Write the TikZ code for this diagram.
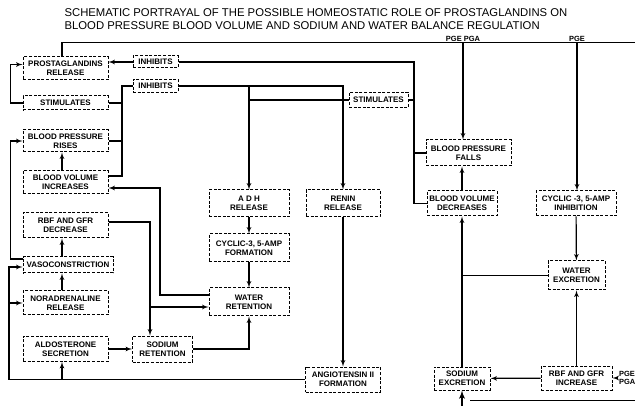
\documentclass[tikz,border=0pt]{standalone}
\usepackage{fontspec}
\setmainfont{Liberation Sans}
\usepackage{tikz}
\usetikzlibrary{arrows}
\tikzset{link/.style = {->,> = latex'}}

\begin{document}
\begin{tikzpicture}[x=1pt,y=-1pt,line width=1.2pt,
    box/.style={draw,dash pattern=on 3pt off 1.6pt,line width=1pt,align=center,inner sep=1pt,font=\fontsize{8}{8.6}\selectfont\bfseries},
    wh/.style 2 args={minimum width=#1pt,minimum height=#2pt},
    lbl/.style={inner sep=0.5pt,font=\fontsize{7.5}{8}\selectfont\bfseries}]
\useasboundingbox (0,0) rectangle (635,406);
\node[anchor=north west,align=left,inner sep=0pt,font=\fontsize{11.3}{12.3}\selectfont] (title) at (64,8.3) {SCHEMATIC PORTRAYAL OF THE POSSIBLE HOMEOSTATIC ROLE OF PROSTAGLANDINS ON\\BLOOD PRESSURE BLOOD VOLUME AND SODIUM AND WATER BALANCE REGULATION};

% left column
\node[box, wh={85}{23}] (prost) at (65.5,68.5) {PROSTAGLANDINS\\RELEASE};
\node[box, wh={85}{14}] (stim1) at (65.5,103) {STIMULATES};
\node[box, wh={85}{22}] (bprise) at (65.5,141) {BLOOD PRESSURE\\RISES};
\node[box, wh={85}{23}] (bvinc) at (65.5,182.5) {BLOOD VOLUME\\INCREASES};
\node[box, wh={85}{25}] (rbfd) at (65.5,225.5) {RBF AND GFR\\DECREASE};
\node[box, wh={90}{16}] (vaso) at (68,265) {VASOCONSTRICTION};
\node[box, wh={85}{24}] (nora) at (65.5,303) {NORADRENALINE\\RELEASE};
\node[box, wh={85}{25}] (alds) at (65.5,349) {ALDOSTERONE\\SECRETION};
\node[box, wh={45}{12}] (inh1) at (155.5,62) {INHIBITS};
\node[box, wh={45}{13}] (inh2) at (155.5,86) {INHIBITS};
\node[box, wh={60}{26}] (sodret) at (162.5,349) {SODIUM\\RETENTION};

% middle
\node[box, wh={80}{27}] (adh) at (249,203.5) {A D H\\RELEASE};
\node[box, wh={80}{28}] (cycf) at (249,248) {CYCLIC-3, 5-AMP\\FORMATION};
\node[box, wh={80}{28}] (watret) at (249,302) {WATER\\RETENTION};
\node[box, wh={74}{27}] (renin) at (343,203.5) {RENIN\\RELEASE};
\node[box, wh={75}{25}] (angio) at (343,379.5) {ANGIOTENSIN II\\FORMATION};
\node[box, wh={59}{15}] (stim2) at (378.5,100) {STIMULATES};

% right
\node[box, wh={85}{26}] (bpf) at (468.5,153) {BLOOD PRESSURE\\FALLS};
\node[box, wh={70}{25}] (bvd) at (462,203.5) {BLOOD VOLUME\\DECREASES};
\node[box, wh={80}{25}] (cycinh) at (576,203.5) {CYCLIC -3, 5-AMP\\INHIBITION};
\node[box, wh={57}{29}] (watexc) at (576.5,275.5) {WATER\\EXCRETION};
\node[box, wh={56}{23}] (sodexc) at (462,378.5) {SODIUM\\EXCRETION};
\node[box, wh={71}{24}] (rbfinc) at (576.5,378) {RBF AND GFR\\INCREASE};

\node[lbl, anchor=south] (pgepga) at (463,42.5) {PGE PGA};
\node[lbl, anchor=south] (pge) at (577,42.5) {PGE};
\node[lbl, anchor=west, align=left] (pgepga2) at (618,378) {PGE\\PGA};

\coordinate (colx) at (62,0);
\coordinate (topend) at (635,42.5);
\coordinate (rbus) at (414,62);
\coordinate (lbus) at (122,86);
\coordinate (wbend) at (160,188);
\coordinate (rbfx) at (150,307);
\coordinate (abus) at (9,380);
\coordinate (botin) at (462,406);
\coordinate (cutl) at (470,400);
\coordinate (cutr) at (635,400);

% top feed
\draw (prost.north -| colx) |- (topend);
\draw[link] (pgepga.south) -- (pgepga.south |- bpf.north);
\draw[link] (pge.south) -- (pge.south |- cycinh.north);
\draw[link] (inh1.west) -- (inh1.west -| prost.east);
\draw[link] (stim1.west) -- ++(-12,0) |- ([yshift=4pt]prost.west);

% left bus
\draw (inh2.west) -- (lbus) |- ([yshift=6.5pt]bvinc.east);
\draw (stim1.east) -- (stim1.east -| lbus);
\draw (bprise.east) -- (bprise.east -| lbus);
\draw[link] (bvinc.north -| colx) -- (bprise.south -| colx);
\draw[link] (vaso.north -| colx) -- (rbfd.south -| colx);
\draw[link] (nora.north -| colx) -- (vaso.south -| colx);
\draw[link] ([yshift=6pt]vaso.west) -- ++(-12,0) |- (bprise.west);
\draw[link] (angio.west) -| ([yshift=-2pt]vaso.west -| abus) -- ([yshift=-2pt]vaso.west);
\draw[link] (nora.west -| abus) -- (nora.west);
\draw[link] (angio.west -| colx) -- (alds.south -| colx);
\draw[link] ([yshift=7pt]watret.west) -| (wbend) -- (wbend -| bvinc.east);
\draw[link] ([yshift=3.5pt]rbfd.east) -| (rbfx |- sodret.north);
\draw[link] (rbfx) -- (rbfx -| watret.west);
\path[link] (alds) edge (sodret);
\draw[link] (sodret.east) -| (watret.south);

% middle
\draw (inh1.east) -- (rbus) |- (bvd.west);
\draw (bpf.west -| rbus) -- (bpf.west);
\draw (stim2.east) -- (stim2.east -| rbus);
\draw[link] (stim2.west) -| (adh.north);
\draw[link] (inh2.east) -| (renin.north);
\draw (inh2.east -| adh.north) -- (stim2.west -| adh.north);
\path[link] (adh) edge (cycf);
\path[link] (cycf) edge (watret);
\path[link] (renin) edge (angio);

% right
\draw[link] (bvd.north) -- (bvd.north |- bpf.south);
\draw[link] (sodexc.north) -- (sodexc.north |- bvd.south);
\draw (watexc.west) -- (watexc.west -| sodexc.north);
\path[link] (cycinh) edge (watexc);
\path[link] (rbfinc) edge (watexc);
\path[link] (rbfinc) edge (sodexc);
\draw[link] (pgepga2.west) -- (rbfinc.east);
\draw[link, line width=1.8pt] (botin) -- (sodexc.south);
\draw[line width=0.6pt] (cutl) -- (cutr);
\end{tikzpicture}
\end{document}
